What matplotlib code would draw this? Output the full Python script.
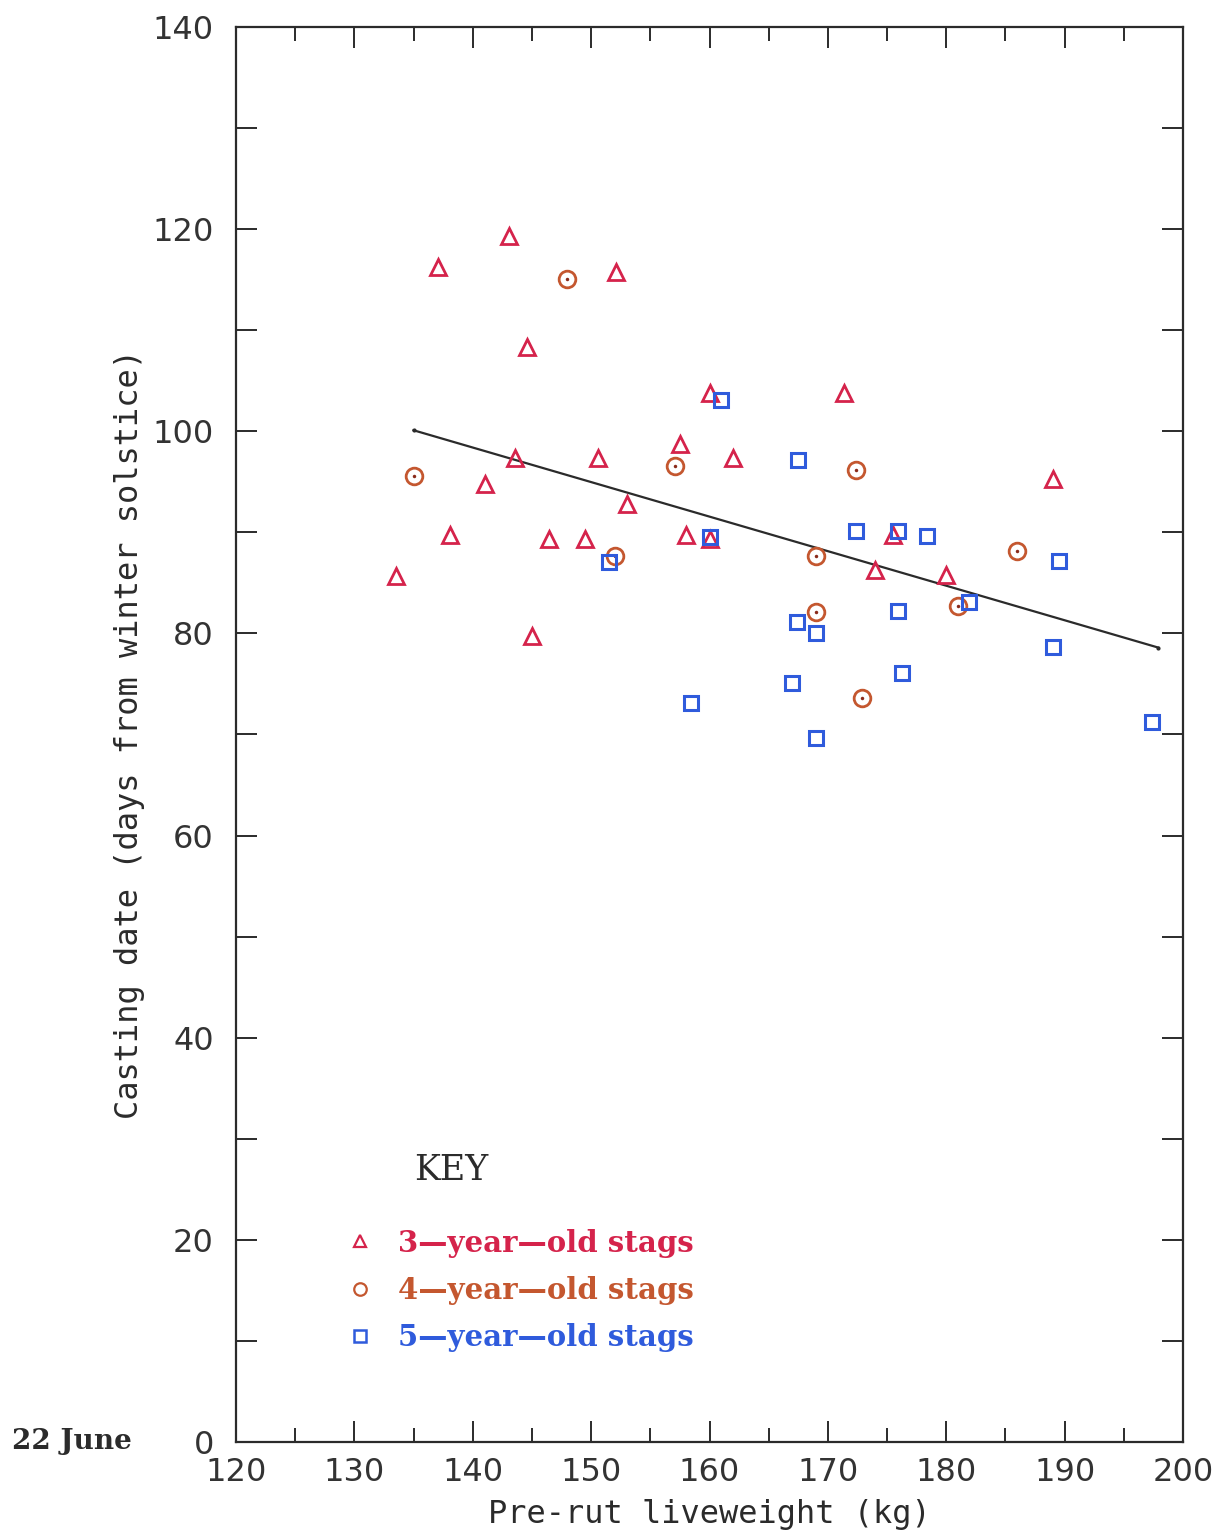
import matplotlib
matplotlib.use('Agg')
import matplotlib.pyplot as plt
from matplotlib.lines import Line2D
from matplotlib.ticker import MultipleLocator

# Antler casting date against pre-rut liveweight, by stag age
weight_3yr = [133.5, 137.1, 143.1, 152.1, 144.6, 160.0, 171.4, 157.5, 143.6, 150.6,
              162.0, 141.0, 153.0, 138.1, 146.4, 149.5, 158.0, 160.0, 175.5, 174.0,
              180.0, 145.0, 189.0]
cast_3yr = [85.7, 116.3, 119.3, 115.8, 108.3, 103.8, 103.8, 98.7, 97.4, 97.4,
            97.4, 94.8, 92.8, 89.7, 89.3, 89.3, 89.7, 89.3, 89.7, 86.3,
            85.8, 79.7, 95.3]

weight_4yr = [135.0, 148.0, 157.1, 172.4, 152.0, 169.0, 169.0, 181.0, 186.0, 172.9]
cast_4yr = [95.6, 115.1, 96.6, 96.2, 87.7, 87.7, 82.1, 82.7, 88.2, 73.6]

weight_5yr = [161.0, 167.5, 172.4, 175.9, 178.4, 160.0, 151.5, 189.5, 181.9, 175.9,
              167.4, 169.0, 176.3, 189.0, 167.0, 158.4, 169.0, 197.4]
cast_5yr = [103.1, 97.2, 90.1, 90.1, 89.6, 89.5, 87.1, 87.2, 83.1, 82.2,
            81.1, 80.0, 76.1, 78.7, 75.1, 73.1, 69.7, 71.2]

# fitted regression line end points
fit_x = [135.0, 197.9]
fit_y = [100.1, 78.6]

RED = '#d5234b'
BROWN = '#c4572f'
BLUE = '#2f5bdc'
INK = '#2b2b2b'

fig = plt.figure(figsize=(12.14, 15.34), dpi=100)
fig.patch.set_facecolor('white')
ax = fig.add_axes([0.1944, 0.0600, 0.7801, 0.9224])

ax.plot(fit_x, fit_y, color=INK, lw=1.6, marker='.', ms=4, zorder=2)

ax.plot(weight_3yr, cast_3yr, ls='none', marker='^', ms=12, mew=2.0,
        mfc='none', mec=RED, zorder=3)
ax.plot(weight_4yr, cast_4yr, ls='none', marker='o', ms=12, mew=2.0,
        mfc='none', mec=BROWN, zorder=3)
ax.plot(weight_4yr, cast_4yr, ls='none', marker='o', ms=2.5, mew=0,
        mfc='#8a2a1a', zorder=3)
ax.plot(weight_5yr, cast_5yr, ls='none', marker='s', ms=10.5, mew=2.2,
        mfc='none', mec=BLUE, zorder=3)

ax.set_xlim(120, 200)
ax.set_ylim(0, 140)
ax.xaxis.set_major_locator(MultipleLocator(10))
ax.xaxis.set_minor_locator(MultipleLocator(5))
ax.yaxis.set_major_locator(MultipleLocator(20))
ax.yaxis.set_minor_locator(MultipleLocator(10))

ax.tick_params(which='both', direction='in', top=True, right=True,
               color=INK, width=1.4, labelsize=23, labelcolor='#333333')
ax.tick_params(axis='x', which='major', length=15, pad=11)
ax.tick_params(axis='x', which='minor', length=10)
ax.tick_params(axis='y', which='both', length=15, pad=16)
for spine in ax.spines.values():
    spine.set_color(INK)
    spine.set_linewidth(1.6)

ax.set_xlabel('Pre-rut liveweight (kg)', family='DejaVu Sans Mono',
              fontsize=23, color=INK, labelpad=8)
ax.set_ylabel('Casting date (days from winter solstice)', family='DejaVu Sans Mono',
              fontsize=23, color=INK, labelpad=5)

# key
ax.text(0.188, 0.192, 'KEY', transform=ax.transAxes, family='DejaVu Serif',
        fontsize=25, color=INK, ha='left', va='center')
handles = [
    Line2D([], [], ls='none', marker='^', ms=9, mew=1.6, mfc='none', mec=RED),
    Line2D([], [], ls='none', marker='o', ms=9, mew=1.6, mfc='none', mec=BROWN),
    Line2D([], [], ls='none', marker='s', ms=8, mew=1.8, mfc='none', mec=BLUE),
]
labels = ['3\u2014year\u2014old stags', '4\u2014year\u2014old stags', '5\u2014year\u2014old stags']
leg = ax.legend(handles, labels, loc='upper left', bbox_to_anchor=(0.103, 0.159),
                frameon=False, handlelength=1.0, handletextpad=0.8,
                labelspacing=0.63, borderaxespad=0,
                prop={'family': 'DejaVu Serif', 'weight': 'bold', 'size': 21})
for txt, col in zip(leg.get_texts(), [RED, BROWN, BLUE]):
    txt.set_color(col)

fig.text(0.059, 0.0600, '22 June', family='DejaVu Serif', weight='bold',
         fontsize=20, color=INK, ha='center', va='center')

fig.savefig('out.png', dpi=100, facecolor='white')
